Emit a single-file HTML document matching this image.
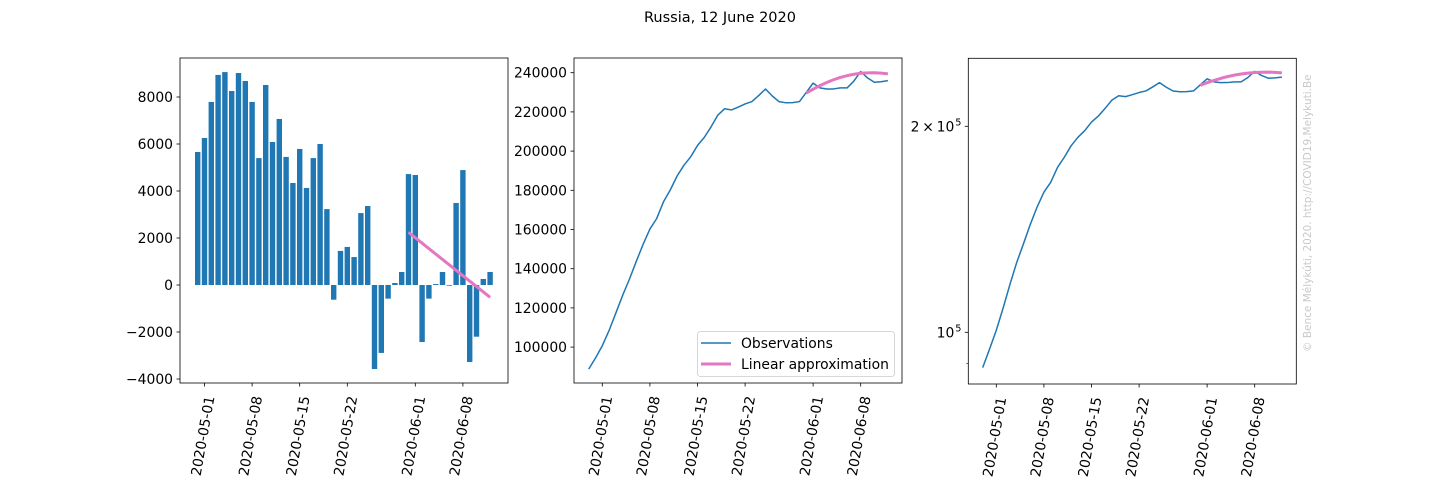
<!DOCTYPE html>
<html><head><meta charset="utf-8"><style>
html,body{margin:0;padding:0;background:#fff;}
svg{display:block;font-family:"DejaVu Sans","Liberation Sans",sans-serif;}
</style></head><body>
<svg id="fig" width="1440" height="480" viewBox="0 0 1440 480">
<rect width="1440" height="480" fill="#fff"/>
<text x="720" y="22" text-anchor="middle" font-size="14.5" fill="#000">Russia, 12 June 2020</text>
<text transform="translate(1311,352) rotate(-90)" font-size="10.5" fill="#c8c8c8">© Bence Mélykúti, 2020. http://COVID19.Melykuti.Be</text>
<g id="p1"></g>
<g id="p2"></g>
<g id="p3"></g>
</svg>
<script>
// Days since 2020-05-01 (-2 = Apr 29)
const obsDays = [-2,-1,0,1,2,3,4,5,6,7,8,9,10,11,12,13,14,15,16,17,18,19,20,21,22,23,24,25,26,27,28,29,30,31,32,33,34,35,36,37,38,39,40,41,42];
const observations = [88780,94440,100695,108485,117425,126485,134740,143760,152440,160230,165630,174140,180225,187290,192740,197080,202870,207000,212400,218400,221630,221005,222455,224075,225265,228325,231685,228110,225220,224640,224725,225278,229998,234678,232253,231673,231713,232266,232236,235726,240616,237341,235141,235396,235949];
const barDays = [-1,0,1,2,3,4,5,6,7,8,9,10,11,12,13,14,15,16,17,18,19,20,21,22,23,24,25,26,27,28,29,30,31,32,33,34,35,36,37,38,39,40,41,42];
const dailyChange = [5660,6255,7790,8940,9060,8255,9020,8680,7790,5400,8510,6085,7065,5450,4340,5790,4130,5400,6000,3230,-625,1450,1620,1190,3060,3360,-3575,-2890,-580,85,553,4720,4680,-2425,-580,40,553,-30,3490,4890,-3275,-2200,255,553];
const fitDays = [30,42];
const fitRate = [2240,-525];
const fitCumDays = [30,31,32,33,34,35,36,37,38,39,40,41,42];
const fitCum = [229600,231600,233400,235000,236400,237600,238500,239200,239700,239900,240000,239800,239400];
const dateTickDays = [0,7,14,21,31,38];
const dateTickLabels = ["2020-05-01","2020-05-08","2020-05-15","2020-05-22","2020-06-01","2020-06-08"];
const p1Ticks = [-4000,-2000,0,2000,4000,6000,8000];
const p2Ticks = [100000,120000,140000,160000,180000,200000,220000,240000];

const NS="http://www.w3.org/2000/svg";
const BLUE="#1f77b4", PINK="#e377c2";
function mk(parent,tag,attrs){const e=document.createElementNS(NS,tag);for(const k in attrs)e.setAttribute(k,attrs[k]);parent.appendChild(e);return e;}
const DX=6.8;
function xAxis(g,x0,left,right,bottom){
  dateTickDays.forEach((d,i)=>{
    const x=x0+d*DX;
    const t=mk(g,'line',{x1:x,x2:x,y1:bottom,y2:bottom+3.5,stroke:'#000','stroke-width':0.8});
    
    
    const tx=mk(g,'text',{transform:`translate(${x+10},${bottom+14}) rotate(-80)`,'text-anchor':'end','font-size':13.9,fill:'#000'});
    tx.textContent=dateTickLabels[i];
    
    
  });
}
function frame(g,l,t,r,b){const f=mk(g,'rect',{x:l,y:t,width:r-l,height:b-t,fill:'none',stroke:'#000','stroke-width':0.8});}
function yTicks(g,left,vals,yf,labelf){
  vals.forEach(v=>{const y=yf(v);
    const t=mk(g,'line',{x1:left-3.5,x2:left,y1:y,y2:y,stroke:'#000','stroke-width':0.8});
    
    
    const tx=mk(g,'text',{x:left-7,y:y+5,'text-anchor':'end','font-size':13.9,fill:'#000'});
    tx.textContent=labelf(v);
    
    
  });
}
function path(g,xs,ys,xf,yf,color,w){
  const d=xs.map((x,i)=>(i?'L':'M')+xf(x).toFixed(2)+','+yf(ys[i]).toFixed(2)).join(' ');
  return mk(g,'path',{d:d,fill:'none',stroke:color,'stroke-width':w,'stroke-linejoin':'round'});
}
// Panel 1
(function(){
  const g=document.getElementById('p1');const L=180,R=508,T=58,B=383,x0=204.5;
  const xf=d=>x0+d*DX; const yf=v=>285-v*0.0235;
  barDays.forEach((d,i)=>{const v=dailyChange[i];const y0=yf(0),y1=yf(v);
    const r=mk(g,'rect',{x:xf(d)-2.7,y:Math.min(y0,y1),width:5.4,height:Math.abs(y1-y0),fill:BLUE});
    
    });
  const fl=path(g,fitDays,fitRate,xf,yf,PINK,3);
  
  
  frame(g,L,T,R,B);
  yTicks(g,L,p1Ticks,yf,v=>v<0?'\u2212'+(-v):String(v));
  xAxis(g,x0,L,R,B);
})();
// Panel 2
(function(){
  const g=document.getElementById('p2');const L=574,R=902,T=58,B=383,x0=602.3;
  const xf=d=>x0+d*DX; const yf=v=>72.7-(v-240000)*39.2/20000;
  const ob=path(g,obsDays,observations,xf,yf,BLUE,1.5);
  
  
  const fl=path(g,fitCumDays,fitCum,xf,yf,PINK,3);
  
  
  frame(g,L,T,R,B);
  yTicks(g,L,p2Ticks,yf,v=>String(v));
  xAxis(g,x0,L,R,B);
  const lg=mk(g,'g',{});
  
  
  mk(lg,'rect',{x:697.5,y:331.5,width:197,height:45,rx:3,fill:'#fff','fill-opacity':0.8,stroke:'#ccc','stroke-width':0.8});
  mk(lg,'line',{x1:701,x2:731,y1:343,y2:343,stroke:BLUE,'stroke-width':1.5});
  mk(lg,'line',{x1:701,x2:731,y1:364,y2:364,stroke:PINK,'stroke-width':3});
  const t1=mk(lg,'text',{x:741,y:348,'font-size':13.9});t1.textContent='Observations';
  
  
  const t2=mk(lg,'text',{x:741,y:369,'font-size':13.9});t2.textContent='Linear approximation';
  
  
})();
// Panel 3 (log)
(function(){
  const g=document.getElementById('p3');const L=968.3,R=1296.3,T=58.3,B=384,x0=996.3;
  const xf=d=>x0+d*DX; const yf=v=>332.3-684.3*Math.log10(v/100000);
  const ob=path(g,obsDays,observations,xf,yf,BLUE,1.5);
  
  
  const fl=path(g,fitCumDays,fitCum,xf,yf,PINK,3);
  
  
  frame(g,L,T,R,B);
  [90000].forEach(v=>{const m=mk(g,'line',{x1:L-2,x2:L,y1:yf(v),y2:yf(v),stroke:'#000','stroke-width':0.6});
    
    });
  [[100000,''],[200000,'2\u2009\u00d7\u200910']].forEach(([v,pre])=>{const y=yf(v);
    const t=mk(g,'line',{x1:L-3.5,x2:L,y1:y,y2:y,stroke:'#000','stroke-width':0.8});
    
    
    const tx=mk(g,'text',{x:L-14,y:y+5,'text-anchor':'end','font-size':13.9});
    tx.textContent=pre===''?'10':pre;
    
    
    const sp=mk(g,'text',{x:L-13,y:y-1,'text-anchor':'start','font-size':9.7});
    sp.textContent='5';});
  xAxis(g,x0,L,R,B);
})();
</script>
</body></html>
